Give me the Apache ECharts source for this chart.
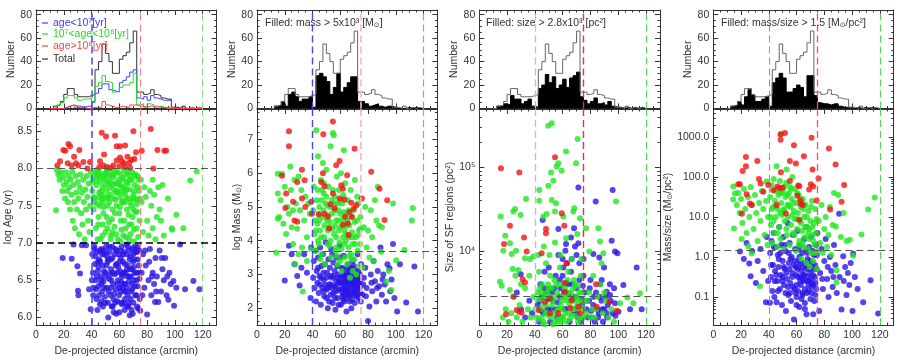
<!DOCTYPE html>
<html>
<head>
<meta charset="utf-8">
<title>SF regions vs de-projected distance</title>
<script src="https://cdn.jsdelivr.net/npm/echarts@6/dist/echarts.min.js"></script>
<style>
  html, body { margin: 0; padding: 0; background: #fff; }
  #main { width: 905px; height: 362px; }
</style>
</head>
<body>
<div id="main"></div>
<script>
// ---------------- data ----------------
// histogram bins: left edges (arcmin), width 2.5, last edge 120
var binStart = [10, 12.5, 15, 17.5, 20, 22.5, 25, 27.5, 30, 32.5, 35, 37.5, 40, 42.5, 45, 47.5, 50, 52.5, 55, 57.5,
  60, 62.5, 65, 67.5, 70, 72.5, 75, 77.5, 80, 82.5, 85, 87.5, 90, 92.5, 95, 97.5, 100, 102.5, 105, 107.5,
  110, 112.5, 115, 117.5];
var binEnd = 120;
var histTotal = [0,2,3,6,12,17,17,12,10,10,10,11,12,33,40,55,47,40,30,30,42,45,48,56,66,14,14,12,13,16,12,11,9,8,8,1,1,0,2,0,1,0,1,0];
var histYoung = [0,0,0,0,1,2,3,2,2,1,2,2,6,13,17,21,21,16,15,14,22,24,27,31,33,9,8,10,7,11,9,8,7,7,7,1,1,0,0,0,0,0,0,0];
var histMid   = [0,1,3,5,9,11,11,9,7,8,8,9,5,19,22,28,23,22,14,15,18,20,20,22,30,3,4,1,4,3,1,2,1,1,1,0,0,0,1,0,1,0,1,0];
var histOld   = [0,0,0,0,1,2,3,1,1,1,0,0,1,1,1,6,3,2,1,1,2,1,1,3,3,2,2,1,2,2,2,1,1,0,0,0,0,0,0,0,0,0,0,0];
var histMassFill = [0,2,3,6,2,12,14,10,6,8,8,10,1,28,30,27,23,12,18,30,14,18,22,27,27,6,6,4,2,3,4,2,1,2,2,1,0,0,0,1,0,1,0,0];
var histSizeFill = [0,2,2,4,3,11,8,8,4,6,8,2,1,17,20,29,22,27,17,20,25,18,26,28,31,10,7,4,6,9,4,5,3,6,2,1,1,0,1,0,1,0,1,0];
var histDensFill = [0,2,3,6,3,10,16,11,6,6,8,10,2,22,26,30,26,14,14,17,20,18,10,28,28,11,5,4,4,3,4,4,2,1,1,1,0,1,0,1,0,1,0,0];

// cuts shown as dashed lines
var distCuts = [40, 75, 120];
var ageCuts = [8.0, 7.0];
var massCut = 3.7;
var sizeCut = 2.8e3;
var densCut = 1.5;

// [distance (arcmin), log Age (yr)]
var ageYoung = [[19.2,6.8],[25.7,6.79],[29.8,6.69],[31.7,6.59],[30.2,6.36],[30.5,6.3],[27,6.98],[33,6.97],[36,6.97],[38.2,6.38],[39.4,6.11],
  [40.5,6.85],[41,6.6],[41.5,6.4],[42,6.95],[42.5,6.72],[43,6.5],[43.5,6.25],[44,6.88],[44.5,6.62],[45,6.42],[45.5,6.78],[46,6.18],[46.5,6.55],[47,6.92],[47.5,6.35],[48,6.7],[48.5,6.48],[49,6.85],[49.5,6.28],[50,6.6],[50.5,6.95],[51,6.4],[51.5,6.75],[52,6.0],[52.5,6.52],[53,6.88],[53.5,6.3],[54,6.65],[54.5,6.15],[55,6.8],[55.5,6.45],[56,6.07],[56.5,6.58],[57,6.92],[57.5,6.38],[58,6.72],[58.5,6.22],[59,6.5],[59.5,6.85],[60,6.07],[60.5,6.62],[61,6.35],[61.5,6.95],[62,6.18],[62.5,6.75],[63,6.45],[63.5,6.88],[64,6.25],[64.5,6.6],[65,6.98],[65.5,6.4],[66,6.7],[66.5,6.15],[67,6.55],[67.5,6.03],[68,6.82],[68.5,6.35],[69,6.65],[69.5,6.92],[70,6.2],[70.5,6.5],[71,6.78],[71.5,6.3],[72,6.6],[72.5,6.88],[73,6.42],[73.5,6.12],[74,6.7],[74.5,6.52],
  [45,6.68],[48,6.9],[52,6.78],[55,6.6],[58,6.9],[61,6.8],[64,6.72],[67,6.9],[70,6.85],[73,6.95],[50,6.2],[57,6.2],[63,6.2],[69,6.45],[62,6.55],[66,6.3],[60,6.4],[54,6.4],[47,6.5],[71,6.6],
  [41.2,6.3],[42.8,6.82],[44.2,6.1],[45.8,6.9],[47.2,6.22],[48.8,6.62],[50.2,6.88],[51.8,6.2],[53.2,6.58],[54.8,6.95],[56.2,6.32],[57.8,6.05],[59.2,6.68],[60.8,6.9],[62.2,6.4],[63.8,6.1],[65.2,6.85],[66.8,6.48],[68.2,6.25],[69.8,6.75],[71.2,6.42],[72.8,6.15],[74.2,6.9],[43.8,6.55],[46.2,6.75],[49.2,6.4],[52.8,6.95],[55.8,6.25],[58.8,6.45],[61.8,6.58],[64.8,6.35],[67.8,6.65],[70.8,6.95],[73.8,6.6],[61.2,6.2],[65.8,6.55],[68.8,6.1],[72.2,6.3],
  [40.2,6.5],[41.8,6.92],[43.2,6.38],[44.8,6.75],[46.8,6.45],[48.2,6.15],[49.8,6.55],[51.2,6.82],[52.2,6.35],[53.8,6.78],[55.2,6.15],[56.8,6.85],[58.2,6.6],[59.8,6.3],[60.2,6.75],[61.4,6.48],[62.8,6.85],[63.2,6.6],[64.2,6.45],[65.4,6.65],[66.2,6.95],[66.8,6.2],[67.4,6.78],[68.4,6.55],[69.2,6.38],[70.4,6.68],[71.4,6.88],[72.4,6.5],[73.2,6.78],[74.6,6.25],[63.6,6.35],[65.6,6.15],[69.6,6.05],[57.4,6.7],[54.2,6.5],[50.8,6.7],[47.6,6.85],[45.4,6.3],
  [75,6.09],[76,6.6],[76.5,6.3],[77,6.85],[78,6.4],[78.5,6.9],[79,6.7],[80,6.04],[81,6.5],[81.5,6.75],[82,6.92],[83,6.3],[83.5,6.55],[84,6.6],[85,6.45],[85.7,6.21],[86,6.8],[86.5,6.35],[87,6.55],[88,6.21],[89,6.9],[90,6.35],[90.5,6.8],[91,6.65],[92,6.5],[93,6.8],[94,6.3],[94.5,6.55],[95.3,6.24],[96,6.6],[97,6.45],[98.9,6.49],[99.4,6.16],[101,6.4],[103.7,6.98],[107.3,6.38],[113.3,6.49],[117.6,6.38]];
var ageMid = [[14.4,7.44],[15,7.98],[16,7.92],[17,7.85],[18,7.95],[19,7.7],[19.5,7.88],[20,7.78],[21,7.6],[21.5,7.95],[22,7.82],[22.5,7.7],[23,7.55],[23.5,7.9],[24,7.75],[24.5,7.45],[25,7.85],[25.5,7.65],[26,7.96],[26.5,7.3],[27,7.78],[27.5,7.55],[28,7.2],[28.5,7.9],[29,7.68],[29.5,7.45],[30,7.82],[30.5,7.6],[31,7.12],[31.5,7.75],[32,7.92],[32.5,7.4],[33,7.68],[33.5,7.25],[34,7.85],[34.5,7.55],[35,7.05],[35.5,7.72],[36,7.45],[36.5,7.9],[37,7.62],[37.5,7.3],[38,7.8],[38.5,7.15],[39,7.5],[39.5,7.95],
  [40.5,7.7],[41,7.88],[41.5,7.45],[42,7.6],[42.5,7.95],[43,7.2],[43.5,7.78],[44,7.52],[44.5,7.9],[45,7.35],[45.5,7.68],[46,7.82],[46.5,7.05],[47,7.58],[47.5,7.92],[48,7.75],[48.5,7.4],[49,7.85],[49.5,7.62],[50,7.15],[50.5,7.95],[51,7.7],[51.5,7.5],[52,7.82],[52.5,7.28],[53,7.9],[53.5,7.65],[54,7.1],[54.5,7.78],[55,7.45],[55.5,7.88],[56,7.6],[56.5,7.22],[57,7.8],[57.5,7.95],[58,7.5],[58.5,7.7],[59,7.05],[59.5,7.85],[60,7.4],[60.5,7.62],[61,7.92],[61.5,7.18],[62,7.75],[62.5,7.55],[63,7.88],[63.5,7.3],[64,7.68],[64.5,7.08],[65,7.82],[65.5,7.45],[66,7.95],[66.5,7.6],[67,7.25],[67.5,7.72],[68,7.12],[68.5,7.5],[69,7.85],[69.5,7.35],[70,7.65],[70.5,7.02],[71,7.78],[71.5,7.42],[72,7.9],[72.5,7.2],[73,7.58],[73.5,7.08],[74,7.7],[74.5,7.3],
  [44,7.98],[47,7.7],[50,7.88],[53,7.75],[56,7.92],[59,7.68],[62,7.85],[65,7.72],[68,7.9],[71,7.6],[46,7.5],[52,7.62],[58,7.8],[64,7.55],[70,7.45],[48,7.25],[55,7.15],[61,7.3],[67,7.05],[73,7.9],
  [40.8,7.82],[42.2,7.55],[43.8,7.92],[45.2,7.62],[46.8,7.88],[48.2,7.55],[49.8,7.78],[51.2,7.98],[52.8,7.55],[54.2,7.92],[55.8,7.72],[57.2,7.58],[58.8,7.95],[60.2,7.78],[61.8,7.55],[63.2,7.98],[64.8,7.62],[66.2,7.8],[67.8,7.55],[69.2,7.95],[70.8,7.7],[72.2,7.52],[73.8,7.85],[44.8,7.25],[50.8,7.35],[56.8,7.4],[62.8,7.1],[68.8,7.25],[74.8,7.6],[60.8,7.02],[53.8,7.05],[47.8,7.1],
  [41.4,7.62],[43.4,7.85],[45.6,7.95],[47.4,7.65],[49.4,7.92],[51.6,7.6],[53.4,7.82],[55.4,7.98],[57.4,7.68],[59.4,7.8],[61.4,7.68],[63.6,7.75],[65.4,7.92],[67.4,7.85],[69.6,7.6],[71.6,7.92],[73.4,7.75],[48.6,7.48],[54.6,7.32],[60.4,7.48],[66.6,7.38],[72.6,7.42],[57.6,7.12],[64.6,7.2],[70.4,7.18],[44.4,7.05],[51.4,7.2],
  [75.5,7.85],[76,7.55],[77,7.15],[78,7.75],[79,7.62],[80,7.3],[81,7.1],[82,7.7],[83,7.5],[84,7.2],[84,7.85],[85,7.65],[86,7.05],[87,7.35],[88,7.75],[89,7.45],[90,7.3],[91,7.78],[92,7.1],[95,7.6],[97.7,7.2],[98,7.18],[101,7.38],[106,7.2],[111,7.84],[115.7,7.96]];
var ageOld = [[19.7,8.25],[24.5,8.3],[23.3,8.33],[21.1,8.24],[17.3,8.1],[15.4,8.04],[22.8,8.07],[27.4,8.16],[31.2,8.25],[25.7,8.04],[28.8,8.07],[30.5,8.04],[34.1,8.09],[38.9,8.09],[37,8.0],
  [47.3,8.48],[50.4,8.43],[49,8.19],[56.9,8.44],[58.1,8.3],[60.5,8.3],[50.9,8.02],[55.7,8.04],[58.1,8.11],[60.5,8.15],[61.9,8.1],[64.1,8.31],[65.8,8.16],[68.9,8.12],[70.1,8.5],[72,8.22],[67.2,8.08],[63.4,8.07],[60,8.03],[46.1,8.1],[48.5,8.04],[53.3,8.01],[64.1,8.02],[67.7,8.01],[70.8,8.13],[45.6,8.02],
  [76.1,8.24],[82.6,8.53],[84.5,8.0],[87.4,8.25],[92.4,8.24],[93.6,8.24]];

// [distance, log Mass (Msun)]
var massYoung = [[20,2.82],[23,3.85],[25,3.6],[27,3.3],[29,2.95],[30.7,2.67],[32,3.2],[34,3.6],[36,3.05],[38.6,2.3],[39,3.8],
  [40.5,2.9],[41,3.4],[41.5,2.6],[42,3.7],[42.5,2.2],[43,3.1],[43.5,2.75],[44,3.5],[44.5,2.45],[45,2.95],[45.5,3.8],[46,2.1],[46.5,3.25],[47,2.6],[47.5,3.6],[48,2.85],[48.5,2.35],[49,3.3],[49.5,3.95],[50,2.55],[50.5,3.05],[51,2.0],[51.5,3.45],[52,2.7],[52.5,3.2],[53,2.4],[53.5,3.75],[54,2.9],[54.5,2.15],[55,3.35],[55.5,2.65],[56,3.1],[56.5,1.95],[57,2.8],[57.5,3.5],[58,2.3],[58.5,3.0],[59,2.55],[59.5,3.85],[60,2.75],[60.5,2.1],[61,3.2],[61.5,2.45],[62,2.9],[62.5,3.55],[63,2.2],[63.5,2.65],[64,3.05],[64.5,1.9],[65,2.5],[65.5,3.3],[66,2.8],[66.5,2.35],[67,3.15],[67.5,2.6],[68,2.0],[68.5,2.9],[69,3.4],[69.5,2.45],[70,2.75],[70.5,2.15],[71,3.1],[71.5,2.55],[72,2.85],[72.5,3.6],[73,2.3],[73.5,2.7],[74,3.0],[74.5,2.45],
  [62,2.6],[64,2.8],[66,2.55],[68,2.7],[70,2.4],[72,2.6],[74,2.8],[65,2.95],[67,2.4],[69,2.7],[71,2.9],[63,2.95],[61,2.75],[73,3.1],[59,2.75],[57,2.5],[55,2.95],[53,2.7],[51,2.6],[49,2.7],
  [45.2,2.7],[47.8,3.05],[50.2,2.3],[52.8,2.95],[55.2,2.45],[57.8,3.25],[60.2,2.9],[62.8,2.4],[65.2,2.7],[67.8,3.05],[70.2,2.55],[72.8,2.95],[74.8,2.2],[63.8,2.55],[66.8,2.2],[68.8,2.45],[71.8,2.35],[73.8,2.6],[61.8,3.15],[58.8,2.1],[64.8,3.2],[69.8,3.25],[56.8,2.65],[54.2,3.6],[59.8,3.5],
  [60.6,2.55],[61.6,2.35],[62.4,3.0],[63.4,2.75],[64.4,2.5],[65.6,2.85],[66.4,3.05],[67.4,2.75],[68.4,2.25],[69.4,2.95],[70.6,2.65],[71.4,2.75],[72.4,2.45],[73.4,2.85],[74.4,2.65],[66,2.4],[68,3.2],[70,2.9],[64,2.3],[62,2.25],[58,2.9],[56,2.3],[54,2.6],[52,2.2],[50,2.9],[48,2.5],[46,2.9],[44,3.2],
  [75,3.3],[76,2.4],[76.5,2.7],[77,2.9],[78,3.2],[78.5,2.35],[79,2.6],[80,1.62],[81,2.05],[82,3.0],[82.5,2.75],[83,2.5],[84,3.4],[85,2.8],[86,2.2],[86.5,2.6],[87,3.1],[88,2.65],[89,3.8],[90,2.4],[90.5,2.85],[91,3.0],[92,2.7],[93,2.2],[94,3.3],[95.5,3.18],[96,2.5],[97,2.85],[98,3.9],[99,2.3],[101,1.9],[103,3.3],[107.5,2.17],[113.4,3.23],[116,1.9]];
var massMid = [[14,3.64],[15,5.98],[15,5.4],[15,4.65],[16,4.7],[17,5.2],[18,5.98],[19,4.5],[20,5.6],[21,4.2],[22,5.0],[23,4.8],[24,6.2],[24.5,5.5],[25,4.4],[26,3.9],[27,5.8],[27.5,3.3],[28,5.1],[29,4.35],[30,5.9],[31,4.9],[32,5.5],[32.5,3.8],[33,2.49],[34,4.6],[35,5.3],[36,4.1],[37,5.1],[38,4.8],[39,3.75],[36,3.4],[30,3.6],[26,4.9],
  [40.5,4.9],[41,5.6],[41.5,4.2],[42,3.7],[42.7,7.27],[43,5.2],[43.5,4.5],[44,6.5],[44.5,3.9],[45,5.0],[45.5,4.3],[46,5.8],[46.5,3.6],[47,4.7],[47.5,6.3],[48,5.4],[48.5,4.1],[49,3.3],[49.5,5.1],[50,6.1],[50.5,4.6],[51,3.9],[51.5,5.6],[52,4.4],[52.5,5.0],[53,6.8],[53.5,3.5],[54,4.8],[54.7,7.19],[55.4,7.12],[55.5,4.2],[56,5.3],[56.5,3.7],[57,4.6],[57.5,5.9],[58,3.3],[58.5,4.9],[59,5.5],[59.5,3.95],[60,4.4],[60.5,6.0],[61,3.1],[61.5,5.1],[62,4.65],[62.6,6.68],[63,3.5],[63.5,5.7],[64,4.0],[64.5,4.8],[65,3.3],[65.5,5.2],[66,3.8],[66.5,4.45],[67,2.9],[67.5,5.5],[68,3.6],[68.5,4.25],[69,3.1],[69.5,4.9],[70,3.45],[70.5,5.8],[71,4.1],[71.5,3.0],[72,4.6],[72.5,3.7],[73,5.1],[73.5,4.3],[74,3.25],[74.5,4.7],
  [45,4.6],[48,4.9],[51,4.3],[54,5.2],[57,4.1],[60,4.8],[63,4.3],[66,4.1],[69,3.9],[50,5.3],[56,4.9],[62,4.1],[47,5.5],[59,4.3],[65,4.6],[53,4.0],[44,4.0],[68,4.7],
  [41.8,4.6],[43.8,5.5],[46.2,4.1],[48.2,5.7],[50.8,4.75],[52.2,3.85],[54.8,5.5],[56.2,4.45],[58.2,5.1],[60.8,3.75],[62.2,5.35],[64.2,4.2],[66.2,4.9],[68.2,3.45],[70.2,4.55],[72.2,5.3],[74.2,3.9],[45.8,3.45],[57.8,3.55],[61.8,4.5],
  [42.4,4.3],[44.6,4.75],[46.6,5.2],[48.6,4.45],[50.6,5.05],[52.6,4.55],[54.4,4.35],[56.6,5.1],[58.6,4.6],[60.4,5.2],[62.4,4.85],[64.6,4.45],[66.6,3.55],[68.6,4.1],[70.6,3.9],[72.6,4.15],[74.6,4.35],[60,3.4],[63,3.9],[57,3.8],
  [76,3.2],[77,4.4],[78,5.0],[79,3.8],[80,4.3],[81,3.5],[82,4.9],[83,4.1],[84,3.4],[85,5.2],[86,4.6],[87,5.6],[88,4.45],[89.5,3.67],[90,4.4],[93.1,2.79],[95,3.1],[96.7,2.54],[98,5.1],[100.3,3.42],[106.3,3.72],[111.6,4.6],[112.3,4.97]];
var massOld = [[23,7.24],[23,6.8],[18,5.92],[21,5.4],[20.4,4.97],[26,5.15],[29,5.74],[27,4.6],[29,4.56],[32.4,6.1],[34.3,5.79],[32.4,5.25],[34.8,5.0],[39.1,5.15],[39.6,4.8],
  [47.8,7.15],[54.7,7.53],[57.1,6.23],[47.5,6.0],[46.3,5.74],[48.7,5.61],[44.6,4.79],[48.7,4.79],[51.1,4.71],[53,5.08],[54.7,5.4],[59.5,6.36],[60.7,5.64],[61.9,5.54],[59.5,5.25],[63.1,5.22],[55.9,4.95],[63.6,4.71],[61.9,4.46],[65.5,4.51],[66.7,4.85],[67.9,5.12],[69.8,4.95],[70.3,6.72],[65,5.94],[71.5,5.05],[66,4.17],[52,4.36],[68.4,4.71],
  [75.6,5.25],[82.3,6.04],[88.3,5.54],[93.8,5.2],[91.9,4.61]];

// [distance, log10 size (pc^2)]
var sizeYoung = [[71.3,4.76],[96,4.73],[83.8,4.59],[45.6,4.37],[56.9,4.26],[68.2,4.27],[66,4.16],[62.4,4.08],[71.3,4.09],[68.9,4.05],[82.1,3.96],[86.4,3.92],[95.3,4.12],[97.7,3.99],[99.4,3.97],[113.3,3.8],[103.7,3.59],[88.1,3.65],[89.8,3.8],[29.8,3.72],[108.5,3.3],[116.9,3.3],[100.1,3.27],[97.7,3.37],[94.1,3.47],[91.7,3.51],
  [42,3.35],[44,3.6],[46,3.25],[48,3.5],[50,3.8],[52,3.3],[54,3.55],[56,3.2],[58,3.45],[60,3.7],[62,3.3],[64,3.6],[66,3.4],[68,3.25],[70,3.55],[72,3.85],[74,3.35],[76,3.5],[78,3.2],[80,3.65],[82,3.35],[84,3.5],[86,3.25],[88,3.4],[90,3.3],[92,3.2],[94,3.6],[96,3.25],[43,3.15],[47,3.75],[51,3.15],[55,3.7],[59,3.2],[63,3.85],[67,3.6],[71,3.2],[75,3.7],[79,3.4],[83,3.15],[87,3.6],[91,3.45],[45,3.45],[53,3.4],[61,3.5],[69,3.45],[77,3.3],[85,3.3],[65,3.15],[57,3.95],[73,3.15],[81,3.2],[89,3.15],[49,3.3],[62,4.0],[70,3.95],[58,3.65],
  [44.5,3.28],[50.5,3.55],[56.5,3.38],[62.5,3.62],[68.5,3.3],[74.5,3.58],[80.5,3.28],[86.5,3.45],[92.5,3.35],[98,3.22],[60,3.9],[66,3.75],[72,3.65],
  [43.5,3.4],[46.5,3.55],[49.5,3.42],[52.5,3.5],[55.5,3.3],[58.5,3.55],[61.5,3.3],[64.5,3.48],[67.5,3.42],[70.5,3.25],[73.5,3.42],[76.5,3.4],[79.5,3.55],[82.5,3.45],[85.5,3.2],[88.5,3.3],[91.5,3.25],[94.5,3.4],[97,3.55],[60.5,3.8],[66.5,3.9],[75,3.9],
  [27,3.5],[30,3.3],[33,3.2],[36,3.4],[38,3.25]];
var sizeMid = [[49.7,5.5],[52.1,5.53],[70.8,5.34],[62.4,5.19],[56.9,5.05],[55.7,5.01],[69.6,5.05],[51.6,4.94],[59.3,4.96],[53.3,4.84],[49.7,4.78],[43.2,4.73],[43.2,4.6],[33.6,4.62],[52.1,4.61],[25.7,4.5],[24.5,4.47],[29.8,4.43],[15.4,4.41],[55.2,4.57],[68.4,4.51],[67.7,4.47],[46.1,4.41],[48.5,4.44],[54.5,4.47],[60.5,4.41],[72.5,4.39],[98.4,4.59],[76.8,4.27],[85.7,4.27],[18.7,4.18],[22.1,4.09],[17.3,4.0],[23.3,3.96],[26.4,4.0],[32.9,3.91],[36.5,3.9],[38.9,3.93],[14.9,3.63],[16.1,3.58],[24,3.78],[28,3.77],[22,3.53],[110.9,3.37],[115.7,3.49],[106.6,3.44],[101.3,3.37],[79.2,3.99],[89.3,3.97],[86.9,4.11],
  [41,3.2],[42,3.5],[43,3.75],[44,3.3],[45,3.6],[46,3.15],[47,3.45],[48,3.85],[49,3.25],[50,3.55],[51,3.7],[52,3.2],[53,3.4],[54,3.65],[55,3.15],[56,3.5],[57,3.3],[58,3.8],[59,3.2],[60,3.45],[61,3.6],[62,3.25],[63,3.4],[64,3.75],[65,3.18],[66,3.5],[67,3.3],[68,3.65],[69,3.22],[70,3.45],[71,3.58],[72,3.3],[73,3.7],[74,3.2],[75,3.4],
  [42.5,3.95],[46.5,4.05],[50.5,3.95],[54.5,4.1],[58.5,3.95],[62.5,4.15],[66.5,3.9],[70.5,4.2],[73.5,3.9],
  [44,3.42],[48,3.35],[52,3.55],[56,3.28],[60,3.3],[64,3.5],[68,3.4],[72,3.5],[47,3.12],[53,3.12],[59,3.15],[65,3.35],[71,3.15],
  [40.5,3.3],[43.5,3.55],[46.5,3.35],[49.5,3.6],[52.5,3.35],[55.5,3.6],[58.5,3.35],[61.5,3.55],[64.5,3.25],[67.5,3.55],[70.5,3.35],[73.5,3.5],[45,3.2],[51,3.45],[57,3.15],[63,3.15],[69,3.6],[75,3.2],
  [41.5,3.42],[42.5,3.18],[44.5,3.5],[47.5,3.25],[48.5,3.5],[50,3.22],[53.5,3.25],[54.5,3.45],[56.5,3.18],[59.5,3.4],[60.5,3.2],[62.5,3.45],[65.5,3.4],[66.5,3.22],[68.5,3.3],[71.5,3.4],[72.5,3.2],[74.5,3.32],[63.5,3.65],[57.5,3.6],
  [17,3.2],[19,3.3],[21,3.15],[23,3.25],[25,3.45],[27,3.2],[29,3.35],[31,3.15],[33,3.55],[35,3.3],[37,3.2],[39,3.45],[26,3.7],[30,3.6],[36,3.7],
  [77,3.25],[77.5,3.4],[79,3.5],[80,3.2],[81,3.3],[83,3.2],[84,3.3],[85,3.45],[87,3.6],[89,3.25],[90,3.5],[91,3.4],[93,3.2],[95,3.3],[97,3.15],[82,3.7],[88,3.85]];
var sizeOld = [[15.6,4.99],[28.8,4.94],[54.5,5.12],[22.1,4.3],[17.8,4.08],[32.2,4.16],[34.1,3.99],[59.3,4.45],[61.2,4.3],[48,4.26],[48,4.21],[44.9,3.97],[62.9,3.85],[61.7,3.61],
  [19.2,3.24],[26.9,3.29],[28.8,3.27],[30.5,3.26],[24.5,3.45],[31.2,3.66],[32.9,3.62],[47.3,3.39],[50.9,3.43],[66.5,3.41],[71.3,3.33],[72.5,3.25],[65.3,3.31],[61.7,3.51],[84,3.6],[93.6,3.39],[98.9,3.28],[56.9,3.25],[42.5,3.29],[50.9,3.25],[84.5,3.33]];

// [distance, log10 mass/size (Msun/pc^2)]
var densYoung = [[19.2,0.14],[22,-0.05],[24,0.35],[25.9,-0.16],[26.9,-0.48],[28,0.15],[30.7,-0.65],[32,-0.1],[34,0.2],[36,-0.35],[37.9,-1.13],[38.5,0.5],[39.5,-0.6],
  [40.8,-1.14],[41,0.1],[41.5,-0.5],[42,0.4],[42.5,-0.85],[43,-0.2],[43.5,0.6],[44,-1.0],[44.5,-0.35],[45,0.25],[45.6,-1.13],[46,-0.6],[46.5,0.05],[47,-0.25],[47.5,0.75],[48,-0.8],[48.5,-0.45],[49,0.3],[49.5,-1.2],[50,-0.1],[50.5,0.5],[51,-0.7],[51.5,-0.3],[52,0.15],[52.3,-1.35],[53,-0.55],[53.5,0.85],[54,-0.95],[54.5,-0.15],[55,0.35],[55.5,-0.65],[56,-1.1],[56.5,0.0],[57,-0.4],[57.5,0.55],[58.1,-1.56],[58.5,-0.8],[59,0.2],[59.5,-0.25],[60,-1.0],[60.5,0.65],[61,-0.5],[61.5,-0.1],[62,-1.25],[62.5,0.3],[63,-0.7],[63.5,-0.35],[64,0.1],[64.5,-0.9],[65,-0.45],[65.5,0.45],[66,-1.15],[66.5,-0.2],[67,0.75],[67.2,-1.43],[67.5,-0.6],[68,-0.05],[68.5,-0.85],[69,0.25],[69.5,-0.4],[70,-1.05],[70.5,0.5],[71,-0.65],[71.5,-0.15],[72,-1.43],[72.5,0.05],[73,-0.5],[73.5,-0.95],[74,0.3],[74.5,-0.3],
  [50,-0.5],[55,-0.3],[60,-0.7],[65,-0.6],[70,-0.3],[63,-0.15],[67,-0.3],[72,-0.7],[58,-0.2],[52,-0.9],[62,0.0],[68,-0.5],[61,-0.85],[64,-0.55],[66,-0.8],[69,-0.6],[71,-0.9],[73,-0.2],
  [44.2,-0.6],[47.2,-0.05],[50.8,-0.25],[53.8,-0.75],[56.8,-0.5],[59.8,-0.45],[62.8,-0.5],[65.8,-0.15],[68.8,-0.25],[71.8,-0.45],[74.2,-0.8],[61.2,-0.25],[64.2,-0.95],[67.8,0.1],[70.8,-0.75],[58.8,-0.1],[55.2,-0.9],[72.8,-1.1],
  [41.6,-0.2],[43.6,0.25],[45.4,-0.45],[46.6,-0.85],[48.4,0.1],[49.6,-0.6],[51.4,0.3],[52.6,-0.4],[54.4,0.1],[55.6,-0.05],[57.4,-0.75],[59.4,-0.9],[60.6,-0.3],[61.6,0.2],[62.6,-0.6],[63.6,-1.05],[64.6,-0.25],[65.6,-0.45],[66.6,0.2],[67.6,-0.9],[68.6,-0.7],[69.6,-0.1],[70.6,-0.55],[71.6,0.15],[72.6,-0.3],[73.6,-0.65],[74.6,0.05],[66,-1.3],[60,-1.2],
  [75,0.6],[76.3,-1.35],[77,-0.4],[78,0.2],[78.5,-0.55],[79,-0.8],[80,-0.1],[81,0.45],[82,-0.55],[82.5,-0.25],[83,-1.0],[84,0.0],[85,-0.35],[86,-0.75],[86.5,-0.5],[87,0.3],[88,-0.2],[89,-0.9],[90.7,1.08],[91,-0.5],[92.4,-1.31],[93.6,0.02],[94,-0.6],[95,-0.25],[96,-0.95],[97,-0.4],[98,-0.7],[99,-0.15],[100.3,-1.35],[100.8,0.08],[102,-0.5],[104,-0.8],[108,-1.13],[113.3,-0.58],[118.8,-1.41]];
var densMid = [[48.7,3.07],[45.6,2.27],[52.8,2.19],[38.4,1.89],[14.4,1.76],[15.6,1.59],[14.4,1.44],[14.9,0.71],[20.4,0.45],[25.2,0.27],[27.6,0.09],[33.6,-0.73],
  [17,1.3],[18,1.6],[19,1.1],[20,1.45],[21,0.85],[22,1.7],[23,1.2],[24,0.6],[25,1.5],[26,1.0],[27,1.75],[28,1.3],[29,0.7],[30,1.55],[31,1.1],[32,0.4],[33,1.35],[34,0.9],[35,1.65],[36,1.2],[37,0.55],[38,1.4],[39,0.3],[39.5,1.0],
  [41,1.5],[41.5,0.8],[42,1.8],[42.5,0.35],[43,1.25],[43.5,1.95],[44,0.6],[44.5,1.4],[45,1.0],[45.5,1.7],[46,0.25],[46.5,1.2],[47,1.55],[47.5,0.75],[48,1.9],[48.5,0.45],[49,1.35],[49.5,1.05],[50,1.65],[50.5,0.2],[51,1.2],[51.5,0.9],[52,1.5],[52.5,1.85],[53,0.55],[53.5,1.3],[54,1.0],[54.5,1.6],[55,0.3],[55.5,1.25],[56,0.8],[56.5,1.45],[57,2.0],[57.5,0.6],[58,1.15],[58.5,0.95],[59,1.7],[59.5,0.15],[60,1.35],[60.5,0.7],[61,1.1],[61.5,1.55],[62,0.4],[62.5,0.9],[63,1.25],[63.5,-0.05],[64,0.65],[64.5,1.45],[65,0.25],[65.5,1.0],[66,0.5],[66.5,1.3],[67,-0.15],[67.5,0.75],[68,0.2],[68.5,1.15],[69,0.45],[69.5,-0.25],[70,0.9],[70.5,0.1],[71,1.4],[71.5,0.55],[72,-0.1],[72.5,0.85],[73,0.3],[73.5,1.2],[74,0.6],[74.5,-0.3],
  [42.2,1.2],[45.2,1.25],[48.2,1.1],[51.2,1.75],[54.2,1.3],[57.2,1.05],[60.2,0.95],[63.2,0.85],[66.2,0.75],[69.2,0.7],[72.2,0.4],[74.8,0.15],[47.8,1.6],[56.2,1.7],[64.8,1.2],
  [41.4,1.0],[43.4,0.9],[44.6,1.65],[46.4,0.6],[49.4,1.6],[50.6,1.15],[52.6,0.7],[53.4,1.55],[55.4,1.75],[57.6,1.35],[58.6,0.55],[60.4,1.6],[61.6,0.3],[62.4,1.45],[64.4,0.35],[65.4,1.3],[67.4,1.0],[68.4,0.6],[70.4,1.25],[71.4,0.75],[73.4,0.1],[74.4,0.95],
  [76,0.9],[77,0.35],[78,1.3],[79,0.1],[80,0.7],[81,1.0],[82,0.25],[83,0.55],[84,1.25],[85,0.05],[86,0.8],[87,1.6],[88.3,0.76],[88.8,-0.33],[88.8,-0.63],[90,1.55],[92,0.5],[94,1.1],[96,0.4],[98.4,0.43],[100.8,0.03],[106.8,0.56],[111.6,1.19],[116.4,1.49]];
var densOld = [[51.6,3.1],[48.5,3.07],[48.5,2.93],[70.8,2.98],[83.3,2.71],[58.1,2.79],[65.3,2.52],[23.5,2.5],[23.5,2.27],[21.1,2.15],[31.7,2.4],[55.2,2.4],[59.5,2.34],[48.7,2.12],[88.1,2.31],[71.5,2.19],[75.8,1.96],[18,1.82],[19.2,1.82],[34.1,1.84],[32.9,1.95],[39.6,1.8],[46.3,1.76],[48,1.72],[49.9,1.74],[55.2,1.9],[61.2,1.79],[61.9,1.77],[70.3,1.82],[72,1.76],[69.1,1.69],[60.5,1.53],[62.9,1.41],[64.3,1.3],[62.9,1.33],[26.4,1.34],[27.6,1.3],[24,1.57],[45.6,1.3],[43.2,1.67],[52.3,1.09],[61.9,0.93],[74.4,1.41],[84.2,1.19],[94.3,1.8],[92.4,1.38],[20.6,1.08],[36,1.63]];

// ---------------- style ----------------
var FONT = 'Liberation Sans, DejaVu Sans, sans-serif';
var INK = '#333';
var BLUE = '#2a14e6', GREEN = '#22e622', RED = '#f01414';
var RICH = {
  n: { fontFamily: FONT, fontSize: 10.5, color: INK },
  s: { fontFamily: 'DejaVu Sans', fontSize: 7, color: INK, verticalAlign: 'bottom' }
};

function range(a, b, step) {
  var out = [];
  for (var v = a; v <= b + 1e-9; v += step) out.push(Math.round(v * 1000) / 1000);
  return out;
}
function logMinor(lo, hi) {
  var out = [];
  for (var e = Math.floor(lo); e <= Math.ceil(hi); e++) {
    for (var k = 1; k <= 9; k++) {
      var v = e + Math.log10(k);
      if (v >= lo && v <= hi) out.push(v);
    }
  }
  return out;
}

var xHist = { min: 0, max: 130, major: [0, 20, 40, 60, 80, 100, 120], minor: range(0, 130, 5), labels: false };
var xScat = { min: 0, max: 130, major: [0, 20, 40, 60, 80, 100, 120], minor: range(0, 130, 5), labels: true,
  name: 'De-projected distance (arcmin)', nameGap: 16, fmt: function (v) { return String(v); } };
function yHist(gap) {
  return { min: 0, max: 84, major: [0, 20, 40, 60, 80], minor: range(0, 84, 5), labels: true,
    name: 'Number', nameGap: gap, fmt: function (v) { return String(v); } };
}
var yAge = { min: 5.9, max: 8.8, major: [6.0, 6.5, 7.0, 7.5, 8.0, 8.5], minor: range(5.9, 8.8, 0.1), labels: true,
  name: 'log Age (yr)', nameGap: 20, fmt: function (v) { return v.toFixed(1); } };
var yMass = { min: 1.5, max: 7.9, major: [2, 3, 4, 5, 6, 7], minor: range(1.6, 7.8, 0.2), labels: true,
  name: '{n|log Mass (M}{s|⊙}{n|)}', nameGap: 14, fmt: function (v) { return String(v); } };
var ySize = { min: 3.11, max: 5.70, major: [4, 5], minor: logMinor(3.11, 5.70), labels: true,
  name: 'Size of SF regions (pc²)', nameGap: 15, fmt: function (v) { return v === 4 ? '10⁴' : '10⁵'; } };
var densLabels = { '-1': '0.1', '0': '1.0', '1': '10.0', '2': '100.0', '3': '1000.0' };
var yDens = { min: Math.log10(0.02), max: Math.log10(5000), major: [-1, 0, 1, 2, 3], minor: logMinor(Math.log10(0.02), Math.log10(5000)), labels: true,
  name: '{n|Mass/size (M}{s|⊙}{n|/pc²)}', nameGap: 35, fmt: function (v) { return densLabels[String(Math.round(v))]; } };

// ---------------- layout helpers ----------------
var grids = [], xAxes = [], yAxes = [], series = [];

function makeAxis(gi, pos, cfg, major, withLabel, isY) {
  var ax = {
    type: 'value', gridIndex: gi, position: pos, min: cfg.min, max: cfg.max,
    axisLine: { show: major, onZero: false, lineStyle: { color: INK, width: 1 } },
    axisTick: { show: true, inside: true, length: major ? 5 : 2.5,
      customValues: major ? cfg.major : cfg.minor, lineStyle: { color: INK, width: 1 } },
    axisLabel: { show: withLabel, customValues: cfg.major, formatter: cfg.fmt,
      margin: isY ? 4 : 5, color: INK, fontFamily: FONT, fontSize: 10.5 },
    splitLine: { show: false },
    axisPointer: { show: false }
  };
  if (withLabel && cfg.name) {
    ax.name = cfg.name;
    ax.nameLocation = 'middle';
    ax.nameGap = cfg.nameGap;
    ax.nameTextStyle = { color: INK, fontFamily: FONT, fontSize: 10.5, rich: RICH };
    if (isY) ax.nameRotate = 90;
  }
  return ax;
}

function addPanel(left, top, width, height, xCfg, yCfg) {
  var g = grids.length;
  var rect = { left: left, top: top, width: width, height: height };
  grids.push(Object.assign({}, rect));
  grids.push(Object.assign({}, rect));
  var ids = { x: xAxes.length, y: yAxes.length };
  xAxes.push(makeAxis(g, 'bottom', xCfg, true, xCfg.labels, false));
  xAxes.push(makeAxis(g, 'top', xCfg, true, false, false));
  yAxes.push(makeAxis(g, 'left', yCfg, true, true, true));
  yAxes.push(makeAxis(g, 'right', yCfg, true, false, true));
  xAxes.push(makeAxis(g + 1, 'bottom', xCfg, false, false, false));
  xAxes.push(makeAxis(g + 1, 'top', xCfg, false, false, false));
  yAxes.push(makeAxis(g + 1, 'left', yCfg, false, false, true));
  yAxes.push(makeAxis(g + 1, 'right', yCfg, false, false, true));
  return ids;
}

function stepData(counts) {
  var d = binStart.map(function (x, i) { return [x, counts[i]]; });
  d.push([binEnd, counts[counts.length - 1]]);
  return d;
}

// per-column colours of the dashed distance cuts
var cutStyles = [
  [['#5050ff', 1.6], ['#ff8080', 1.1], ['#80e080', 1.1]],
  [['#4646ff', 1.4], ['#ffb4b4', 1.6], ['#50dc50', 1.2]],
  [['#b8b8ff', 1.4], ['#ee3030', 1.4], ['#50dc50', 1.2]],
  [['#8c8cff', 1.1], ['#ff5050', 1.3], ['#50dc50', 1.1]]
];
function cutLines(col, horiz) {
  var data = distCuts.map(function (v, i) {
    return { xAxis: v, lineStyle: { color: cutStyles[col][i][0], width: cutStyles[col][i][1], type: [7, 4] } };
  });
  (horiz || []).forEach(function (h) {
    data.push({ yAxis: h[0], lineStyle: { color: h[1], width: h[2], type: [7, 4] } });
  });
  return { silent: true, symbol: ['none', 'none'], label: { show: false }, animation: false, data: data };
}

function stepSeries(ids, counts, color, filled, extra) {
  var s = { type: 'line', step: 'end', symbol: 'none', xAxisIndex: ids.x, yAxisIndex: ids.y,
    data: stepData(counts), lineStyle: { color: color, width: 1 }, z: 3 };
  if (filled) s.areaStyle = { color: color, opacity: 1 };
  return Object.assign(s, extra || {});
}
function scatterSeries(ids, data, color, extra) {
  return Object.assign({ type: 'scatter', xAxisIndex: ids.x, yAxisIndex: ids.y, data: data,
    symbolSize: 6, itemStyle: { color: color }, z: 2 }, extra || {});
}

// ---------------- panels ----------------
var lefts = [36, 257, 479.3, 713.3];
var widths = [180.6, 180.4, 180.6, 180.4];
var histGaps = [17, 16, 15, 19];
var H_TOP = 10, H_H = 98.5, S_TOP = 109, S_H = 216;

// column 1: age
var h1 = addPanel(lefts[0], H_TOP, widths[0], H_H, xHist, yHist(histGaps[0]));
series.push(stepSeries(h1, histTotal, '#333', false, { markLine: cutLines(0) }));
series.push(stepSeries(h1, histYoung, '#4040ff'));
series.push(stepSeries(h1, histMid, '#22dd22'));
series.push(stepSeries(h1, histOld, '#ff4040'));
var s1 = addPanel(lefts[0], S_TOP, widths[0], S_H, xScat, yAge);
series.push(scatterSeries(s1, ageYoung, BLUE, { markLine: cutLines(0, [[ageCuts[0], '#555', 1], [ageCuts[1], '#000', 1.5]]) }));
series.push(scatterSeries(s1, ageMid, GREEN));
series.push(scatterSeries(s1, ageOld, RED));

// column 2: mass
var h2 = addPanel(lefts[1], H_TOP, widths[1], H_H, xHist, yHist(histGaps[1]));
series.push(stepSeries(h2, histMassFill, '#000', true, { markLine: cutLines(1) }));
series.push(stepSeries(h2, histTotal, '#666'));
var s2 = addPanel(lefts[1], S_TOP, widths[1], S_H, xScat, yMass);
series.push(scatterSeries(s2, massYoung, BLUE, { markLine: cutLines(1, [[massCut, '#555', 1]]) }));
series.push(scatterSeries(s2, massMid, GREEN));
series.push(scatterSeries(s2, massOld, RED));

// column 3: size
var h3 = addPanel(lefts[2], H_TOP, widths[2], H_H, xHist, yHist(histGaps[2]));
series.push(stepSeries(h3, histSizeFill, '#000', true, { markLine: cutLines(2) }));
series.push(stepSeries(h3, histTotal, '#666'));
var s3 = addPanel(lefts[2], S_TOP, widths[2], S_H, xScat, ySize);
series.push(scatterSeries(s3, sizeYoung, BLUE, { markLine: cutLines(2, [[Math.log10(sizeCut), '#555', 1]]) }));
series.push(scatterSeries(s3, sizeMid, GREEN));
series.push(scatterSeries(s3, sizeOld, RED));

// column 4: mass / size
var h4 = addPanel(lefts[3], H_TOP, widths[3], H_H, xHist, yHist(histGaps[3]));
series.push(stepSeries(h4, histDensFill, '#000', true, { markLine: cutLines(3) }));
series.push(stepSeries(h4, histTotal, '#666'));
var s4 = addPanel(lefts[3], S_TOP, widths[3], S_H, xScat, yDens);
series.push(scatterSeries(s4, densYoung, BLUE, { markLine: cutLines(3, [[Math.log10(densCut), '#555', 1]]) }));
series.push(scatterSeries(s4, densMid, GREEN));
series.push(scatterSeries(s4, densOld, RED));

// ---------------- legend / annotations ----------------
function txt(x, y, text, color) {
  return { type: 'text', x: x, y: y, z: 50, style: {
    text: text, fill: color, fontFamily: FONT, fontSize: 10.5, textVerticalAlign: 'middle',
    rich: {
      n: { fontFamily: FONT, fontSize: 10.5, fill: color, color: color },
      s: { fontFamily: 'DejaVu Sans', fontSize: 7, fill: color, color: color, verticalAlign: 'bottom' }
    } } };
}
function dash(x, y, color) {
  return { type: 'line', z: 50, shape: { x1: x, y1: y, x2: x + 6, y2: y }, style: { stroke: color, lineWidth: 1.2 } };
}
var legendRows = [
  ['age<10⁷[yr]', '#3a3aff', 23],
  ['10⁷<age<10⁸[yr]', '#22dd22', 34],
  ['age>10⁸[yr]', '#ff4040', 46],
  ['Total', '#333', 59]
];
var graphics = [];
legendRows.forEach(function (r) {
  graphics.push(dash(42, r[2], r[1]));
  graphics.push(txt(53, r[2], r[0], r[1]));
});
graphics.push(txt(265, 23, '{n|Filled: mass > 5x10³ [M}{s|⊙}{n|]}', INK));
graphics.push(txt(486, 23, 'Filled: size > 2.8x10³ [pc²]', INK));
graphics.push(txt(721, 23, '{n|Filled: mass/size > 1.5 [M}{s|⊙}{n|/pc²]}', INK));

var chart = echarts.init(document.getElementById('main'));
chart.setOption({
  animation: false,
  backgroundColor: '#fff',
  textStyle: { fontFamily: FONT },
  grid: grids,
  xAxis: xAxes,
  yAxis: yAxes,
  series: series,
  graphic: graphics
});
window.addEventListener('resize', function () { chart.resize(); });
</script>
</body>
</html>
